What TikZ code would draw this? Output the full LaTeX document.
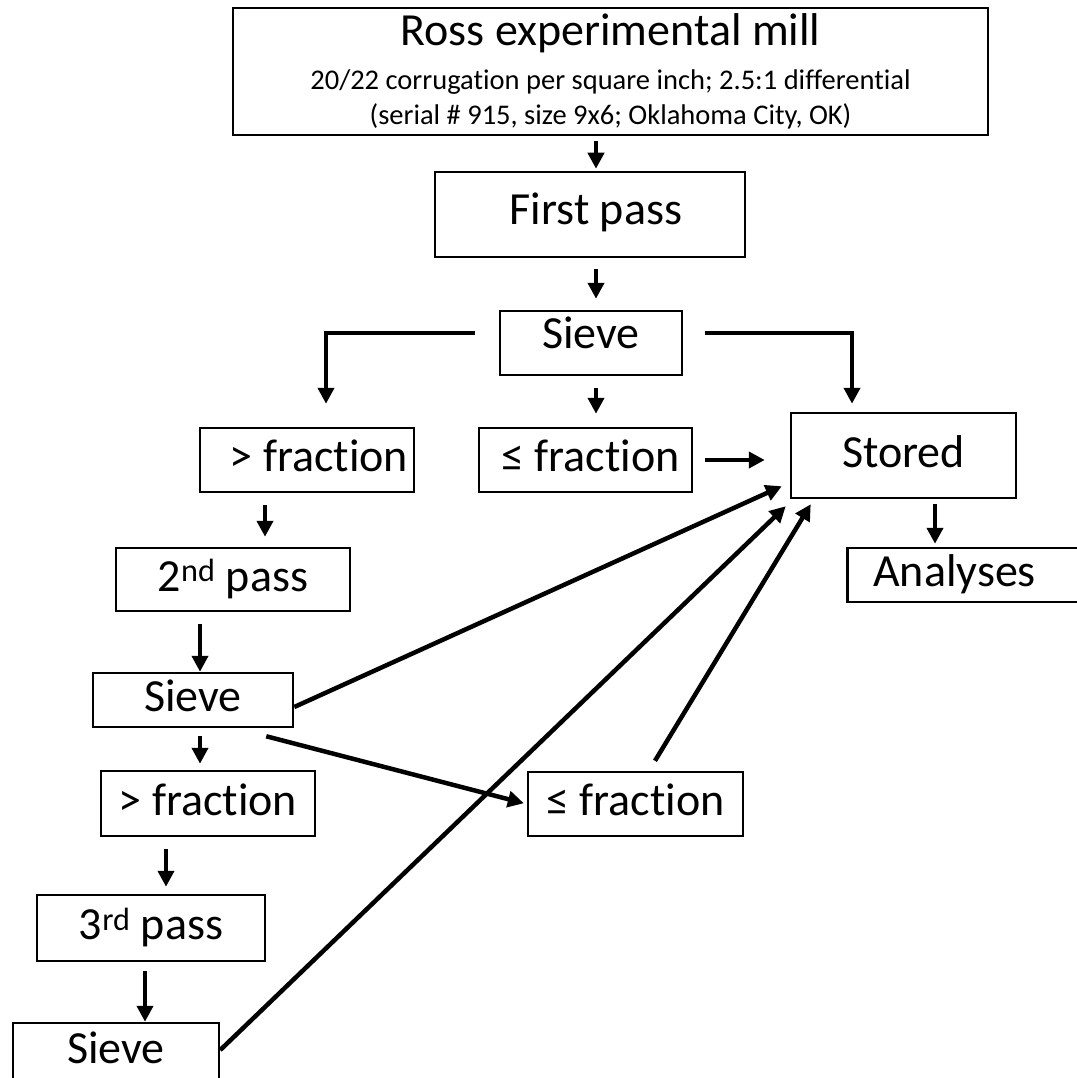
\documentclass[tikz,border=0pt]{standalone}
\usepackage{fontspec}
\setmainfont{Carlito}[Ligatures=NoCommon]
\usetikzlibrary{arrows.meta,positioning}

\begin{document}
\begin{tikzpicture}[x=1pt,y=-1pt,
    box/.style={draw,line width=2.5pt,inner sep=0pt,font=\fontsize{46}{54}\selectfont,
                text height=33pt,text depth=10pt},
    millbox/.style={draw,line width=2.5pt,inner sep=0pt,align=center,
                    font=\fontsize{28.5}{35}\selectfont},
    arr/.style={-{Triangle[width=16pt,length=16pt]},line width=4.5pt}]
  \useasboundingbox (0,0) rectangle (1076,1078);

  % first stage
  \node[millbox,minimum width=755pt,minimum height=127pt] (mill) at (610.5,71.5)
    {{\fontsize{46}{35}\selectfont Ross experimental mill}\\[9pt]
     20/22 corrugation per square inch; 2.5:1 differential\\
     (serial \# 915, size 9x6; Oklahoma City, OK)};
  \node[box,minimum width=310pt,minimum height=85pt,text depth=14pt] (first)  at (590,214.5) {\hspace*{12pt}First pass};
  \node[box,minimum width=182pt,minimum height=64pt,text depth=23pt] (sieveA) at (591,343) {Sieve};
  \node[box,minimum width=214pt,minimum height=64pt] (gtA)    at (307,460) {\hspace*{24pt}> fraction};
  \node[box,minimum width=213pt,minimum height=64pt] (leA)    at (585.5,460) {\hspace*{10pt}≤ fraction};
  \node[box,minimum width=225pt,minimum height=85pt] (stored) at (903.5,455.5) {Stored};
  \node[box,minimum width=250pt,minimum height=54pt,anchor=west,text width=224pt,
        inner xsep=26pt] (analyses) at (846,575) {Analyses};

  % second and third pass
  \node[box,minimum width=234pt,minimum height=63pt] (second) at (233,579.5) {2\textsuperscript{nd} pass};
  \node[box,minimum width=200pt,minimum height=54pt] (sieveB) at (193,700) {Sieve};
  \node[box,minimum width=214pt,minimum height=65pt] (gtB)    at (208,803.5) {> fraction};
  \node[box,minimum width=215pt,minimum height=64pt] (leB)    at (635.5,804) {≤ fraction};
  \node[box,minimum width=228pt,minimum height=66pt] (third)  at (151,928) {3\textsuperscript{rd} pass};
  \node[box,minimum width=206pt,minimum height=58pt] (sieveC) at (116,1052) {Sieve};

  \draw[arr,shorten <=5pt,shorten >=2pt] ([xshift=6pt]first.north |- mill.south) -- ([xshift=6pt]first.north);
  \draw[arr,shorten <=11pt,shorten >=11pt] ([xshift=6pt]first.south) -- ([xshift=6pt]first.south |- sieveA.north);
  \draw[arr,shorten <=24pt,shorten >=23pt] ([yshift=10pt]sieveA.west) -| ([xshift=19pt]gtA.north);
  \draw[arr,shorten <=22pt,shorten >=8pt] ([yshift=10pt]sieveA.east) -| ([xshift=-51.5pt]stored.north);
  \draw[arr,shorten <=12pt,shorten >=13pt] ([xshift=5pt]sieveA.south) -- ([xshift=5pt]sieveA.south |- leA.north);
  \draw[arr,shorten <=12pt,shorten >=25pt] (leA.east) -- (leA.east -| stored.west);
  \draw[arr,shorten <=5pt,shorten >=3pt] ([xshift=31.5pt]stored.south) -- ([xshift=31.5pt]stored.south |- analyses.north);

  \draw[arr,shorten <=12pt,shorten >=10pt] ([xshift=-42pt]gtA.south) -- ([xshift=-42pt]gtA.south |- second.north);
  \draw[arr,shorten <=12pt] ([xshift=-33pt]second.south) -- ([xshift=-33pt]second.south |- sieveB.north);
  \draw[arr,shorten <=8pt,shorten >=6pt] ([xshift=7pt]sieveB.south) -- ([xshift=7pt]sieveB.south |- gtB.north);
  \draw[arr,shorten <=12pt,shorten >=7pt] ([xshift=-42pt]gtB.south) -- ([xshift=-42pt]gtB.south |- third.north);
  \draw[arr,shorten <=9pt] ([xshift=-6pt]third.south) -- ([xshift=-6pt]third.south |- sieveC.north);

  % back to storage
  \draw[arr] ([yshift=-7pt]sieveB.east) -- ([xshift=-8pt,yshift=13pt]stored.south west);
  \draw[arr,shorten >=3pt] ([xshift=-28pt,yshift=-8pt]sieveB.south east) -- (leB.west);
  \draw[arr] ([xshift=19.5pt,yshift=10pt]leB.north) -- ([xshift=21pt,yshift=-5pt]stored.south west);
  \draw[arr] ([yshift=2pt]sieveC.east) -- ([xshift=-4pt,yshift=-7pt]stored.south west);
\end{tikzpicture}
\end{document}
